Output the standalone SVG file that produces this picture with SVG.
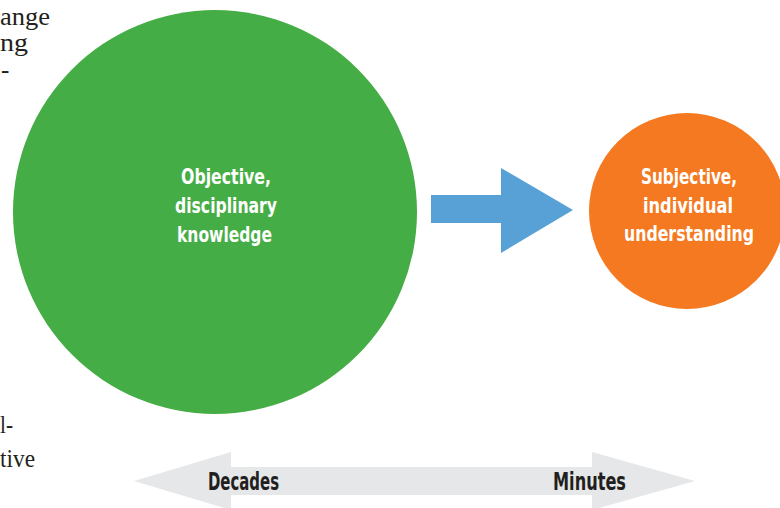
<svg xmlns="http://www.w3.org/2000/svg" width="780" height="508" viewBox="0 0 780 508">
  <style>
    .lbl { font-family: "DejaVu Sans Condensed", "DejaVu Sans", sans-serif; font-weight: bold; fill: #ffffff; font-size: 22px; }
    .time { font-family: "DejaVu Sans Condensed", "DejaVu Sans", sans-serif; font-weight: bold; fill: #231f20; font-size: 24px; }
    .body { font-family: "Liberation Serif", serif; fill: #231f20; font-size: 25px; }
  </style>
  <rect width="780" height="508" fill="#ffffff"/>
  <g id="page-text">
    <text class="body" x="0" y="25" textLength="50" lengthAdjust="spacingAndGlyphs">ange</text>
    <text class="body" x="0" y="51" textLength="28" lengthAdjust="spacingAndGlyphs">ng</text>
    <text class="body" x="1" y="78">-</text>
    <text class="body" x="0" y="433" textLength="13" lengthAdjust="spacingAndGlyphs">l-</text>
    <text class="body" x="0" y="467" textLength="35" lengthAdjust="spacingAndGlyphs">tive</text>
  </g>
  <g id="timeline">
    <polygon points="134,481 231,452 231,467 592,467 592,452 695,481 592,510 592,495 231,495 231,510" fill="#e6e7e8"/>
    <text class="time" x="208" y="490" textLength="71" lengthAdjust="spacingAndGlyphs">Decades</text>
    <text class="time" x="553" y="490" textLength="73" lengthAdjust="spacingAndGlyphs">Minutes</text>
  </g>
  <g id="objective">
    <circle cx="215" cy="212" r="202" fill="#45ad45"/>
    <text class="lbl" x="181" y="184" textLength="90" lengthAdjust="spacingAndGlyphs">Objective,</text>
    <text class="lbl" x="175" y="213" textLength="102" lengthAdjust="spacingAndGlyphs">disciplinary</text>
    <text class="lbl" x="177" y="242" textLength="95" lengthAdjust="spacingAndGlyphs">knowledge</text>
  </g>
  <g id="subjective">
    <circle cx="687" cy="211" r="98" fill="#f47920"/>
    <text class="lbl" x="641" y="184" textLength="96" lengthAdjust="spacingAndGlyphs">Subjective,</text>
    <text class="lbl" x="643" y="213" textLength="90" lengthAdjust="spacingAndGlyphs">individual</text>
    <text class="lbl" x="624" y="241" textLength="130" lengthAdjust="spacingAndGlyphs">understanding</text>
  </g>
  <g id="connectors">
    <polygon points="431,195 501,195 501,168 573,210 501,253 501,223 431,223" fill="#58a1d6"/>
  </g>
</svg>
